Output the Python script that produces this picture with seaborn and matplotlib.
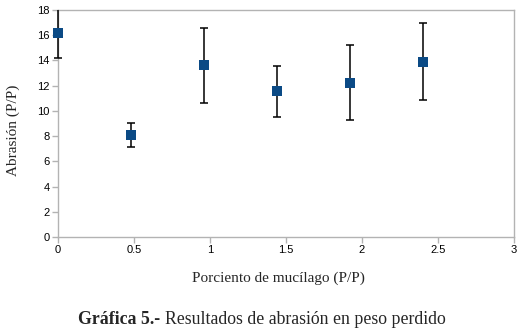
import matplotlib
matplotlib.use("Agg")
import matplotlib.pyplot as plt
from matplotlib.transforms import Bbox, TransformedBbox
import seaborn as sns
import pandas as pd

# Data
mucilago = [0.0, 0.48, 0.96, 1.44, 1.92, 2.40]
abrasion = [16.2, 8.1, 13.6, 11.55, 12.25, 13.9]
error = [2.0, 0.95, 3.0, 2.0, 3.0, 3.07]

x_ticks = [0, 0.5, 1, 1.5, 2, 2.5, 3]
x_ticklabels = ["0", "0.5", "1", "1.5", "2", "2.5", "3"]
y_ticks = [0, 2, 4, 6, 8, 10, 12, 14, 16, 18]

df = pd.DataFrame({"x": mucilago, "y": abrasion, "err": error})

sns.set_style("white")
plt.rcParams['font.family'] = ['Liberation Sans', 'DejaVu Sans']

fig = plt.figure(figsize=(5.22, 3.35), dpi=100)
ax = fig.add_axes([58/522, 1-237/335, (514-58)/522, (237-10)/335])

eb = ax.errorbar(df["x"], df["y"], yerr=df["err"], fmt="none", ecolor="black",
                 elinewidth=1.1, capsize=3, capthick=1.1, zorder=4)
clipbox = TransformedBbox(Bbox([[-0.05, 0.0], [1.05, 1.0]]), ax.transAxes)
for art in list(eb.lines[1]) + list(eb.lines[2]):
    art.set_clip_on(True)
    art.set_clip_box(clipbox)
sns.scatterplot(data=df, x="x", y="y", marker="s", s=58, color="#0b4a85",
                edgecolor="#0b4a85", linewidth=0, ax=ax, zorder=5, clip_on=False)

ax.set_xlim(0, 3)
ax.set_ylim(0, 18)
ax.set_xticks(x_ticks)
ax.set_xticklabels(x_ticklabels)
ax.set_yticks(y_ticks)
ax.tick_params(axis="both", direction="out", length=4, width=1, color="#b3b3b3",
               labelsize=8, labelcolor="black", pad=2, bottom=True, left=True)
for sp in ax.spines.values():
    sp.set_color("#b3b3b3")
    sp.set_linewidth(1)

ax.set_xlabel("")
ax.set_ylabel("")
fig.text(278/522, 1-278/335, "Porciento de mucílago (P/P)", ha="center", va="center",
         family="Liberation Serif", fontsize=11)
fig.text(13/522, 1-130/335, "Abrasión (P/P)", ha="center", va="center", rotation=90,
         family="Liberation Serif", fontsize=11)

cap_y = 1-320/335
fig.text(160/522, cap_y, "Gráfica 5.-", ha="right", va="center",
         family="Liberation Serif", fontsize=12.8, fontweight="bold")
fig.text(165/522, cap_y, "Resultados de abrasión en peso perdido", ha="left", va="center",
         family="Liberation Serif", fontsize=12.8)

fig.savefig("out.png", dpi=100)
